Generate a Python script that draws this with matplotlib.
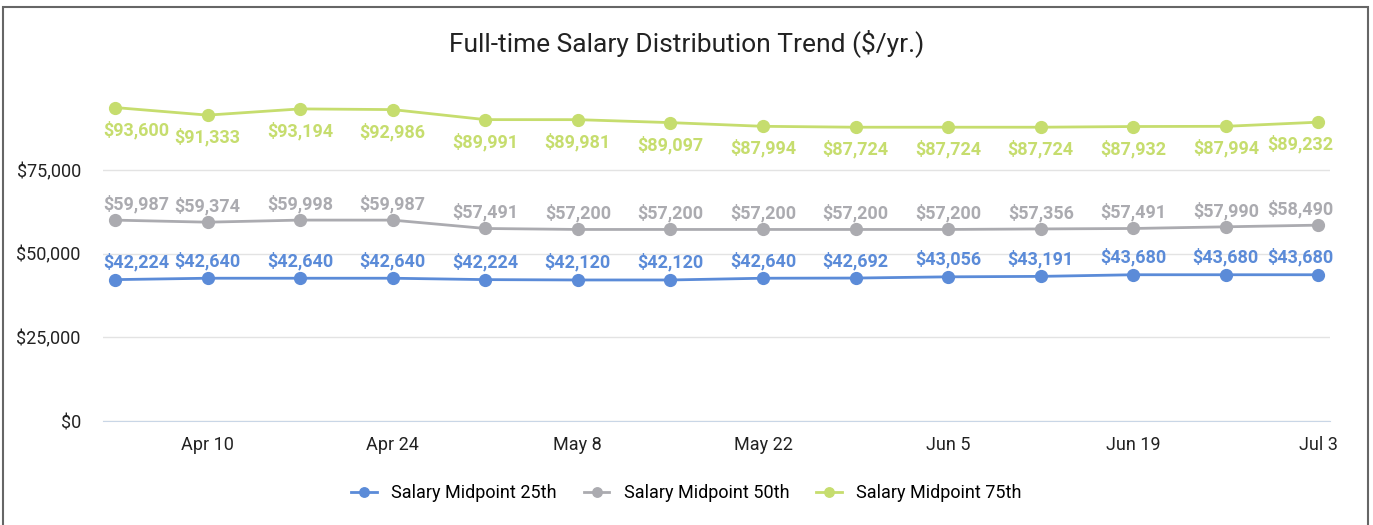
import matplotlib
matplotlib.use("Agg")
import matplotlib.pyplot as plt
from matplotlib.patches import Rectangle

# weekly dates
dates = ["Apr 3", "Apr 10", "Apr 17", "Apr 24", "May 1", "May 8", "May 15",
         "May 22", "May 29", "Jun 5", "Jun 12", "Jun 19", "Jun 26", "Jul 3"]
p25 = [42224, 42640, 42640, 42640, 42224, 42120, 42120, 42640, 42692, 43056, 43191, 43680, 43680, 43680]
p50 = [59987, 59374, 59998, 59987, 57491, 57200, 57200, 57200, 57200, 57200, 57356, 57491, 57990, 58490]
p75 = [93600, 91333, 93194, 92986, 89991, 89981, 89097, 87994, 87724, 87724, 87724, 87932, 87994, 89232]
names = ["Salary Midpoint 25th", "Salary Midpoint 50th", "Salary Midpoint 75th"]
yticks = [0, 25000, 50000, 75000]

plt.rcParams['font.family'] = ['Roboto', 'DejaVu Sans']

fig = plt.figure(figsize=(13.73, 5.25), dpi=100)
ax = fig.add_axes([0.075, 0.198, 0.894, 0.638])

colors = ["#5b8bd8", "#ababb0", "#c6dd6e"]
offsets = [12.5, 11.5, -16]   # label offset in points (up +, down -)
x = list(range(len(dates)))

for vals, name, c, off in zip([p25, p50, p75], names, colors, offsets):
    ax.plot(x, vals, color=c, lw=2, marker="o", ms=8.5, label=name, zorder=3)
    for i, v in enumerate(vals):
        ha = "center"
        dx = 0
        if i == 0:
            ha = "left"
            dx = -8.5
        elif i == len(vals) - 1:
            ha = "right"
            dx = 11
        ax.annotate(f"${v:,}", (i, v), xytext=(dx, off), textcoords="offset points",
                    ha=ha, va="center", color=c, fontsize=13, fontweight="bold")

ax.set_xlim(-0.13, len(dates) - 1 + 0.13)
ax.set_ylim(0, 100000)
ax.set_yticks(yticks)
ax.set_yticklabels([f"${t:,}" for t in yticks])
ax.set_xticks(x[1::2])
ax.set_xticklabels(dates[1::2])
ax.tick_params(length=0, labelsize=13, colors="#222222")
ax.tick_params(axis="y", pad=16)
ax.tick_params(axis="x", pad=11)
ax.grid(axis="y", color="#e3e3e3", lw=1)
ax.set_axisbelow(True)
for s in ["top", "right", "left"]:
    ax.spines[s].set_visible(False)
ax.spines["bottom"].set_color("#c9d6e6")

fig.text(0.5, 0.918, "Full-time Salary Distribution Trend ($/yr.)", ha="center", va="center",
         fontsize=19, color="#222222")

fig.legend(loc="center", bbox_to_anchor=(0.5, 0.06), ncol=3, frameon=False,
           fontsize=13, handlelength=1.4, columnspacing=1.5, markerscale=0.8)

fig.patches.append(Rectangle((3 / 1373, -0.01), 1365 / 1373, 1.01 - 7 / 525,
                             transform=fig.transFigure, fill=False, ec="#666666", lw=1.5))

fig.savefig("out.png", dpi=100)
